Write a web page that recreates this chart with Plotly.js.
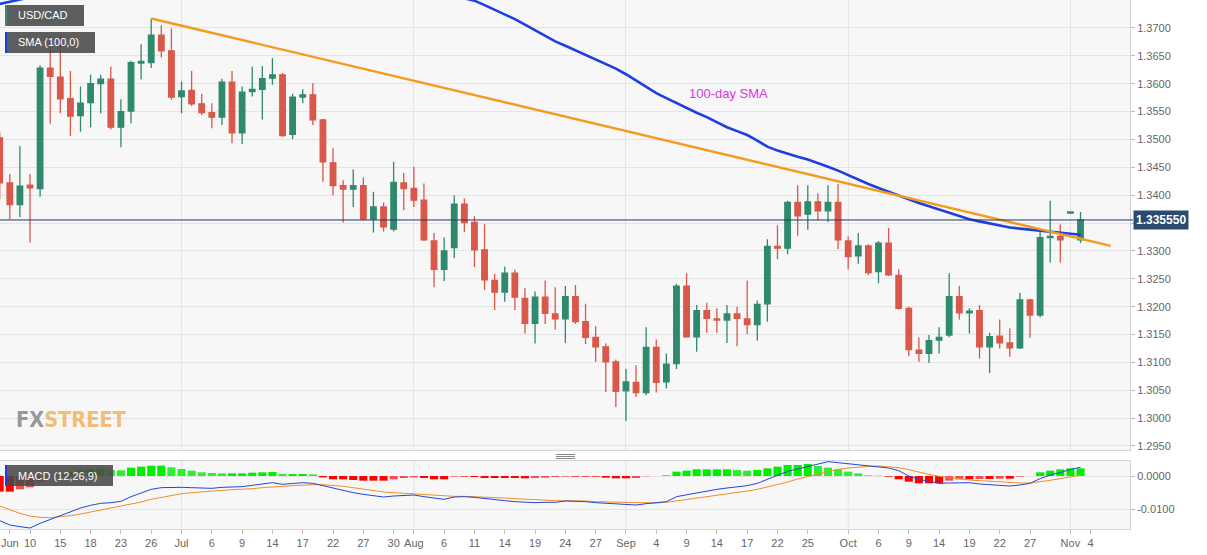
<!DOCTYPE html>
<html>
<head>
<meta charset="utf-8">
<script src="https://cdn.plot.ly/plotly-3.0.1.min.js"></script>
<style>
html,body{margin:0;padding:0;background:#fff;}
#chart{width:1207px;height:555px;}
</style>
</head>
<body>
<div id="chart"></div>
<script>
// ---------- DATA ----------
const dates = [
'2020-06-05','2020-06-08','2020-06-09','2020-06-10','2020-06-11','2020-06-12',
'2020-06-15','2020-06-16','2020-06-17','2020-06-18','2020-06-19',
'2020-06-22','2020-06-23','2020-06-24','2020-06-25','2020-06-26',
'2020-06-29','2020-06-30','2020-07-01','2020-07-02','2020-07-03',
'2020-07-06','2020-07-07','2020-07-08','2020-07-09','2020-07-10',
'2020-07-13','2020-07-14','2020-07-15','2020-07-16','2020-07-17',
'2020-07-20','2020-07-21','2020-07-22','2020-07-23','2020-07-24',
'2020-07-27','2020-07-28','2020-07-29','2020-07-30','2020-07-31',
'2020-08-03','2020-08-04','2020-08-05','2020-08-06','2020-08-07',
'2020-08-10','2020-08-11','2020-08-12','2020-08-13','2020-08-14',
'2020-08-17','2020-08-18','2020-08-19','2020-08-20','2020-08-21',
'2020-08-24','2020-08-25','2020-08-26','2020-08-27','2020-08-28',
'2020-08-31','2020-09-01','2020-09-02','2020-09-03','2020-09-04',
'2020-09-07','2020-09-08','2020-09-09','2020-09-10','2020-09-11',
'2020-09-14','2020-09-15','2020-09-16','2020-09-17','2020-09-18',
'2020-09-21','2020-09-22','2020-09-23','2020-09-24','2020-09-25',
'2020-09-28','2020-09-29','2020-09-30','2020-10-01','2020-10-02',
'2020-10-05','2020-10-06','2020-10-07','2020-10-08','2020-10-09',
'2020-10-12','2020-10-13','2020-10-14','2020-10-15','2020-10-16',
'2020-10-19','2020-10-20','2020-10-21','2020-10-22','2020-10-23',
'2020-10-26','2020-10-27','2020-10-28','2020-10-29','2020-10-30',
'2020-11-02','2020-11-03'
];
const futureDates = ['2020-11-04','2020-11-05','2020-11-06'];

const open = [
1.3503,1.3422,1.3383,1.3418,1.3412,1.3628,
1.3612,1.3573,1.3543,1.3566,1.3600,
1.3608,1.3522,1.3551,1.3637,1.3638,
1.3687,1.3659,1.3577,1.3588,1.3564,
1.3548,1.3540,1.3603,1.3512,1.3586,
1.3590,1.3610,1.3616,1.3509,1.3576,
1.3580,1.3535,1.3458,1.3417,1.3411,
1.3417,1.3357,1.3379,1.3339,1.3422,
1.3412,1.3391,1.3318,1.3267,1.3306,
1.3384,1.3351,1.3302,1.3247,1.3226,
1.3260,1.3215,1.3170,1.3217,1.3187,
1.3178,1.3218,1.3173,1.3145,1.3128,
1.3101,1.3049,1.3064,1.3046,1.3127,
1.3065,1.3098,1.3237,1.3146,1.3193,
1.3178,1.3176,1.3187,1.3178,1.3168,
1.3205,1.3308,1.3305,1.3387,1.3366,
1.3388,1.3372,1.3387,1.3318,1.3291,
1.3309,1.3263,1.3314,1.3256,1.3197,
1.3122,1.3116,1.3140,1.3149,1.3218,
1.3189,1.3193,1.3128,1.3147,1.3135,
1.3126,1.3212,1.3185,1.3324,1.3326,
1.3368,1.3320
];
const high = [
1.3513,1.3438,1.3488,1.3438,1.3633,1.3686,
1.3686,1.3623,1.3595,1.3616,1.3616,
1.3631,1.3572,1.3641,1.3671,1.3717,
1.3705,1.3699,1.3604,1.3623,1.3582,
1.3565,1.3609,1.3623,1.3595,1.3631,
1.3632,1.3646,1.3619,1.3582,1.3590,
1.3601,1.3537,1.3484,1.3427,1.3446,
1.3432,1.3406,1.3387,1.3460,1.3440,
1.3451,1.3421,1.3332,1.3324,1.3400,
1.3394,1.3362,1.3348,1.3259,1.3272,
1.3266,1.3233,1.3227,1.3247,1.3235,
1.3237,1.3239,1.3205,1.3165,1.3134,
1.3105,1.3088,1.3095,1.3163,1.3141,
1.3116,1.3241,1.3260,1.3203,1.3207,
1.3197,1.3203,1.3200,1.3247,1.3211,
1.3321,1.3346,1.3390,1.3418,1.3418,
1.3403,1.3418,1.3420,1.3326,1.3332,
1.3312,1.3318,1.3341,1.3267,1.3200,
1.3145,1.3149,1.3163,1.3260,1.3237,
1.3197,1.3203,1.3153,1.3177,1.3161,
1.3225,1.3214,1.3338,1.3390,1.3348,
1.3371,1.3370
];
const low = [
1.3393,1.3357,1.3361,1.3315,1.3397,1.3528,
1.3547,1.3506,1.3514,1.3522,1.3547,
1.3518,1.3486,1.3529,1.3608,1.3628,
1.3647,1.3571,1.3547,1.3560,1.3544,
1.3520,1.3526,1.3493,1.3492,1.3577,
1.3536,1.3598,1.3505,1.3501,1.3565,
1.3526,1.3424,1.3400,1.3351,1.3379,
1.3355,1.3333,1.3335,1.3335,1.3373,
1.3379,1.3318,1.3235,1.3246,1.3287,
1.3334,1.3271,1.3230,1.3194,1.3209,
1.3194,1.3152,1.3134,1.3169,1.3159,
1.3135,1.3169,1.3133,1.3101,1.3047,
1.3020,1.2995,1.3038,1.3041,1.3046,
1.3053,1.3088,1.3144,1.3119,1.3153,
1.3153,1.3135,1.3129,1.3151,1.3139,
1.3173,1.3285,1.3294,1.3327,1.3338,
1.3355,1.3352,1.3303,1.3267,1.3277,
1.3257,1.3242,1.3255,1.3195,1.3111,
1.3101,1.3099,1.3116,1.3145,1.3177,
1.3152,1.3107,1.3081,1.3125,1.3110,
1.3124,1.3144,1.3181,1.3279,1.3279,
1.3367,1.3314
];
const close = [
1.3422,1.3383,1.3416,1.3413,1.3628,1.3613,
1.3573,1.3542,1.3565,1.3600,1.3608,
1.3522,1.3550,1.3638,1.3640,1.3687,
1.3659,1.3576,1.3587,1.3564,1.3548,
1.3540,1.3603,1.3512,1.3585,1.3590,
1.3609,1.3616,1.3507,1.3576,1.3580,
1.3535,1.3460,1.3417,1.3411,1.3417,
1.3357,1.3379,1.3343,1.3423,1.3412,
1.3391,1.3320,1.3267,1.3300,1.3384,
1.3351,1.3302,1.3248,1.3226,1.3260,
1.3217,1.3170,1.3217,1.3188,1.3178,
1.3218,1.3173,1.3145,1.3128,1.3101,
1.3048,1.3065,1.3046,1.3127,1.3064,
1.3097,1.3237,1.3146,1.3193,1.3179,
1.3176,1.3187,1.3179,1.3168,1.3204,
1.3308,1.3305,1.3387,1.3363,1.3388,
1.3372,1.3387,1.3320,1.3290,1.3309,
1.3261,1.3314,1.3257,1.3197,1.3123,
1.3116,1.3139,1.3145,1.3218,1.3189,
1.3192,1.3128,1.3146,1.3135,1.3126,
1.3212,1.3185,1.3324,1.3326,1.3320,
1.3370,1.33555
];
const sma100 = [
1.3743,1.3747,1.3751,1.3755,1.3759,1.3764,
1.3768,1.3772,1.3776,1.3779,1.3782,
1.3785,1.3787,1.3789,1.3791,1.3792,
1.3793,1.3794,1.3795,1.3795,1.3795,
1.3795,1.3794,1.3793,1.3792,1.3791,
1.3790,1.3789,1.3788,1.3787,1.3786,
1.3785,1.3784,1.3783,1.3782,1.3781,
1.3780,1.3779,1.3778,1.3776,1.3774,
1.3772,1.3769,1.3766,1.3762,1.3758,
1.3754,1.3749,1.3741,1.3733,1.3725,
1.3716,1.3706,1.3696,1.3686,1.3676,
1.3668,1.3660,1.3652,1.3644,1.3636,
1.3627,1.3617,1.3606,1.3594,1.3583,
1.3574,1.3565,1.3556,1.3548,1.3540,
1.3531,1.3522,1.3515,1.3508,1.3498,
1.3487,1.3480,1.3474,1.3469,1.3464,
1.3458,1.3451,1.3444,1.3436,1.3427,
1.3420,1.3413,1.3406,1.3399,1.3392,
1.3386,1.3380,1.3374,1.3368,1.3362,
1.3357,1.3353,1.3349,1.3346,1.3342,
1.3340,1.3338,1.3336,1.3334,1.3332,
1.3331,1.3329
];
const trendDates = ['2020-06-26','2020-11-06'];
const trendValues = [1.3717, 1.3309];

const macdLine = [
-0.0134,-0.0147,-0.0152,-0.0156,-0.0142,-0.0130,
-0.0118,-0.0106,-0.0096,-0.0088,-0.0082,
-0.0080,-0.0076,-0.0062,-0.0050,-0.0040,
-0.0035,-0.0034,-0.0034,-0.0035,-0.0036,
-0.0037,-0.0034,-0.0033,-0.0032,-0.0028,
-0.0024,-0.0020,-0.0025,-0.0023,-0.0020,
-0.0022,-0.0029,-0.0037,-0.0044,-0.0050,
-0.0055,-0.0059,-0.0063,-0.0060,-0.0058,
-0.0057,-0.0062,-0.0067,-0.0070,-0.0063,
-0.0062,-0.0064,-0.0068,-0.0072,-0.0074,
-0.0077,-0.0079,-0.0080,-0.0079,-0.0079,
-0.0075,-0.0075,-0.0077,-0.0080,-0.0082,
-0.0084,-0.0086,-0.0087,-0.0083,-0.0080,
-0.0077,-0.0062,-0.0056,-0.0050,-0.0045,
-0.0040,-0.0036,-0.0032,-0.0029,-0.0022,
-0.0010,0.0002,0.0014,0.0021,0.0028,
0.0036,0.0043,0.0040,0.0037,0.0033,
0.0031,0.0028,0.0024,0.0016,0.0000,
-0.0010,-0.0017,-0.0022,-0.0021,-0.0020,
-0.0020,-0.0024,-0.0026,-0.0028,-0.0030,
-0.0027,-0.0022,-0.0008,0.0003,0.0010,
0.0020,0.0026
];
const signalLine = [
-0.0090,-0.0102,-0.0112,-0.0120,-0.0124,-0.0125,
-0.0123,-0.0119,-0.0114,-0.0108,-0.0103,
-0.0098,-0.0092,-0.0086,-0.0078,-0.0070,
-0.0064,-0.0058,-0.0053,-0.0050,-0.0047,
-0.0045,-0.0043,-0.0041,-0.0040,-0.0038,
-0.0035,-0.0032,-0.0031,-0.0029,-0.0027,
-0.0026,-0.0026,-0.0028,-0.0031,-0.0035,
-0.0040,-0.0044,-0.0048,-0.0050,-0.0052,
-0.0053,-0.0055,-0.0057,-0.0060,-0.0061,
-0.0061,-0.0062,-0.0062,-0.0064,-0.0066,
-0.0068,-0.0070,-0.0072,-0.0073,-0.0074,
-0.0074,-0.0074,-0.0075,-0.0077,-0.0078,
-0.0079,-0.0080,-0.0081,-0.0082,-0.0081,
-0.0079,-0.0075,-0.0071,-0.0067,-0.0063,
-0.0058,-0.0054,-0.0050,-0.0045,-0.0040,
-0.0033,-0.0025,-0.0018,-0.0009,-0.0002,
0.0006,0.0014,0.0020,0.0024,0.0027,
0.0029,0.0030,0.0028,0.0025,0.0019,
0.0011,0.0005,-0.0001,-0.0005,-0.0009,
-0.0012,-0.0014,-0.0016,-0.0018,-0.0020,
-0.0021,-0.0021,-0.0018,-0.0013,-0.0008,
-0.0003,0.0002
];
const macdHist = [
-0.0047,-0.0047,-0.0040,-0.0034,-0.0016,-0.0004,
0.0005,0.0012,0.0017,0.0021,0.0022,
0.0018,0.0017,0.0025,0.0028,0.0031,
0.0031,0.0026,0.0021,0.0016,0.0011,
0.0009,0.0008,0.0008,0.0008,0.0010,
0.0011,0.0012,0.0006,0.0006,0.0006,
0.0005,-0.0004,-0.0010,-0.0010,-0.0012,
-0.0014,-0.0014,-0.0014,-0.0010,-0.0006,
-0.0004,-0.0006,-0.0010,-0.0010,-0.0002,
-0.0002,-0.0003,-0.0006,-0.0006,-0.0006,
-0.0006,-0.0007,-0.0006,-0.0005,-0.0003,
-0.0002,-0.0002,-0.0002,-0.0002,-0.0005,
-0.0007,-0.0007,-0.0006,-0.0001,0.0000,
0.0002,0.0013,0.0016,0.0020,0.0020,
0.0020,0.0020,0.0018,0.0016,0.0018,
0.0023,0.0028,0.0033,0.0033,0.0036,
0.0030,0.0025,0.0020,0.0013,0.0008,
0.0002,0.0001,-0.0002,-0.0010,-0.0017,
-0.0022,-0.0022,-0.0022,-0.0014,-0.0010,
-0.0010,-0.0009,-0.0009,-0.0008,-0.0008,
-0.0002,0.0000,0.0011,0.0016,0.0020,
0.0023,0.0023
];

const monthStarts = ['2020-07-01','2020-08-03','2020-09-01','2020-10-01','2020-11-02'];
const tickDates = ['2020-06-08','2020-06-10','2020-06-15','2020-06-18','2020-06-23','2020-06-26',
'2020-07-01','2020-07-06','2020-07-09','2020-07-14','2020-07-17','2020-07-22','2020-07-27','2020-07-30',
'2020-08-03','2020-08-06','2020-08-11','2020-08-14','2020-08-19','2020-08-24','2020-08-27',
'2020-09-01','2020-09-04','2020-09-09','2020-09-14','2020-09-17','2020-09-22','2020-09-25',
'2020-10-01','2020-10-06','2020-10-09','2020-10-14','2020-10-19','2020-10-22','2020-10-27',
'2020-11-02','2020-11-04'];
const tickLabels = ['Jun','10','15','18','23','26',
'Jul','6','9','14','17','22','27','30',
'Aug','6','11','14','19','24','27',
'Sep','4','9','14','17','22','25',
'Oct','6','9','14','19','22','27',
'Nov','4'];
const priceTicks = [1.2950,1.3000,1.3050,1.3100,1.3150,1.3200,1.3250,1.3300,1.3350,1.3400,1.3450,1.3500,1.3550,1.3600,1.3650,1.3700];
const macdTicks = [-0.0100, 0.0000];

// ---------- STYLE ----------
const GREEN = '#2f8a6d', RED = '#d9584a';
const W = 1130, H = 529;           // plot area in px
const px = v => v / W;
const py = v => 1 - v / H;
const allCats = dates.concat(futureDates);
const lastClose = close[close.length - 1];

// price tick labels; the one hidden under the last-price badge is left blank
const priceTickText = priceTicks.map(v => Math.abs(v - lastClose) < 0.0025 ? '' : v.toFixed(4));

const histColors = macdHist.map((v, i) => {
  const prev = i > 0 ? macdHist[i - 1] : v;
  if (v >= 0) return v >= prev ? '#00ee00' : '#2cf02c';
  return v <= prev ? '#ff0000' : '#f25050';
});

const traces = [
  {
    type: 'candlestick', x: dates, open: open, high: high, low: low, close: close,
    xaxis: 'x', yaxis: 'y', whiskerwidth: 0,
    increasing: {line: {color: GREEN, width: 1.3}, fillcolor: GREEN},
    decreasing: {line: {color: RED, width: 1.3}, fillcolor: RED},
    hoverinfo: 'skip', showlegend: false
  },
  {
    type: 'scatter', mode: 'lines', x: dates, y: sma100, xaxis: 'x', yaxis: 'y',
    line: {color: '#1f3fdc', width: 2.6}, hoverinfo: 'skip', showlegend: false
  },
  {
    type: 'scatter', mode: 'lines', x: trendDates, y: trendValues, xaxis: 'x', yaxis: 'y',
    line: {color: '#f59b1c', width: 2.4}, hoverinfo: 'skip', showlegend: false
  },
  {
    type: 'bar', x: dates, y: macdHist, xaxis: 'x2', yaxis: 'y2',
    marker: {color: histColors, line: {width: 0}}, hoverinfo: 'skip', showlegend: false
  },
  {
    type: 'scatter', mode: 'lines', x: dates, y: signalLine, xaxis: 'x2', yaxis: 'y2',
    line: {color: '#f28c28', width: 1}, hoverinfo: 'skip', showlegend: false
  },
  {
    type: 'scatter', mode: 'lines', x: dates, y: macdLine, xaxis: 'x2', yaxis: 'y2',
    line: {color: '#2445d8', width: 1}, hoverinfo: 'skip', showlegend: false
  }
];

const xRange = [0.03, 111.9];
const gridCol = '#e4e4e6', lineCol = '#d4d4d8';
const tickFont = {family: 'Liberation Sans, Arial, sans-serif', size: 11, color: '#666'};

const shapes = [];
// month gridlines in MACD panel
monthStarts.forEach(d => shapes.push({
  type: 'line', xref: 'x2', yref: 'y2 domain', x0: d, x1: d, y0: 0, y1: 1,
  line: {color: gridCol, width: 1}, layer: 'below'
}));
// last price line
shapes.push({
  type: 'line', xref: 'paper', yref: 'y', x0: 0, x1: px(1133), y0: lastClose, y1: lastClose,
  line: {color: '#1f3a60', width: 1}
});
// label boxes
function box(x0, y0, x1, y1, stripe) {
  shapes.push({type: 'rect', xref: 'paper', yref: 'paper', x0: px(x0), x1: px(x1), y0: py(y1), y1: py(y0),
    fillcolor: 'rgba(72,72,72,0.88)', line: {width: 0}});
  shapes.push({type: 'rect', xref: 'paper', yref: 'paper', x0: px(x0), x1: px(x0 + 2), y0: py(y1), y1: py(y0),
    fillcolor: stripe, line: {width: 0}});
}
box(5, 5, 84, 26, '#3d8a74');
box(5, 32, 95, 53, '#1f3fdc');
box(5, 465, 113, 486, '#1f3fdc');
// separator grip
[454.5, 456.5, 458.5].forEach(y => shapes.push({
  type: 'line', xref: 'paper', yref: 'paper', x0: px(556), x1: px(575), y0: py(y), y1: py(y),
  line: {color: '#888', width: 1}
}));

const lblFont = {family: 'Liberation Sans, Arial, sans-serif', size: 11, color: '#ffffff'};
const annotations = [
  {xref: 'paper', yref: 'paper', x: px(16), y: py(15.5), xanchor: 'left', yanchor: 'middle',
   text: 'USD/CAD', showarrow: false, font: lblFont},
  {xref: 'paper', yref: 'paper', x: px(16), y: py(42.5), xanchor: 'left', yanchor: 'middle',
   text: 'SMA (100,0)', showarrow: false, font: lblFont},
  {xref: 'paper', yref: 'paper', x: px(16), y: py(475.5), xanchor: 'left', yanchor: 'middle',
   text: 'MACD (12,26,9)', showarrow: false, font: lblFont},
  {xref: 'paper', yref: 'paper', x: px(687), y: py(93), xanchor: 'left', yanchor: 'middle',
   text: '100-day SMA', showarrow: false,
   font: {family: 'Liberation Sans, Arial, sans-serif', size: 13, color: '#e033e0'}},
  {xref: 'paper', yref: 'y', x: px(1133), y: lastClose, xanchor: 'left', yanchor: 'middle',
   text: '<b>' + lastClose.toFixed(6) + '</b>', showarrow: false, bgcolor: '#2b4a6f', borderpad: 2,
   font: {family: 'Liberation Sans, Arial, sans-serif', size: 12, color: '#ffffff'}},
  {xref: 'paper', yref: 'paper', x: px(14), y: py(419), xanchor: 'left', yanchor: 'middle',
   text: '<b><span style="color:#8e8e8e">FX</span><span style="color:#f3b766">STREET</span></b>',
   showarrow: false, opacity: 0.9,
   font: {family: 'DejaVu Sans Condensed, sans-serif', size: 21.5}}
];

const layout = {
  width: 1207, height: 555,
  margin: {l: 0, r: 77, t: 0, b: 26, pad: 0},
  paper_bgcolor: '#ffffff', plot_bgcolor: '#f7f7f8',
  showlegend: false, bargap: 0.2, boxgap: 0.22,
  xaxis: {
    type: 'category', categoryorder: 'array', categoryarray: allCats,
    domain: [0, 1], anchor: 'y', range: xRange, fixedrange: true,
    rangeslider: {visible: false},
    tickmode: 'array', tickvals: monthStarts, showticklabels: false, ticks: '',
    showgrid: true, gridcolor: gridCol, gridwidth: 1,
    showline: true, mirror: true, linecolor: lineCol, linewidth: 1, zeroline: false
  },
  yaxis: {
    domain: [79 / H, 1], anchor: 'x', side: 'right', range: [1.29428, 1.37502],
    tickmode: 'array', tickvals: priceTicks, ticktext: priceTickText,
    ticks: 'outside', ticklen: 4, tickcolor: '#bbbbbb', tickfont: tickFont,
    showgrid: true, gridcolor: gridCol, gridwidth: 1,
    showline: true, mirror: true, linecolor: lineCol, zeroline: false, fixedrange: true
  },
  xaxis2: {
    type: 'category', categoryorder: 'array', categoryarray: allCats,
    domain: [0, 1], anchor: 'y2', range: xRange, fixedrange: true,
    tickmode: 'array', tickvals: tickDates, ticktext: tickLabels,
    ticks: 'outside', ticklen: 4, tickcolor: '#bbbbbb', tickfont: tickFont,
    showgrid: false, showline: true, mirror: true, linecolor: lineCol, zeroline: false
  },
  yaxis2: {
    domain: [0, 68 / H], anchor: 'x2', side: 'right', range: [-0.0159, 0.0045],
    tickmode: 'array', tickvals: macdTicks, ticktext: macdTicks.map(v => v.toFixed(4)),
    ticks: 'outside', ticklen: 4, tickcolor: '#bbbbbb', tickfont: tickFont,
    showgrid: true, gridcolor: gridCol, showline: true, mirror: true, linecolor: lineCol,
    zeroline: false, fixedrange: true
  },
  shapes: shapes,
  annotations: annotations
};

Plotly.newPlot('chart', traces, layout, {displayModeBar: false, staticPlot: true});
</script>
</body>
</html>
